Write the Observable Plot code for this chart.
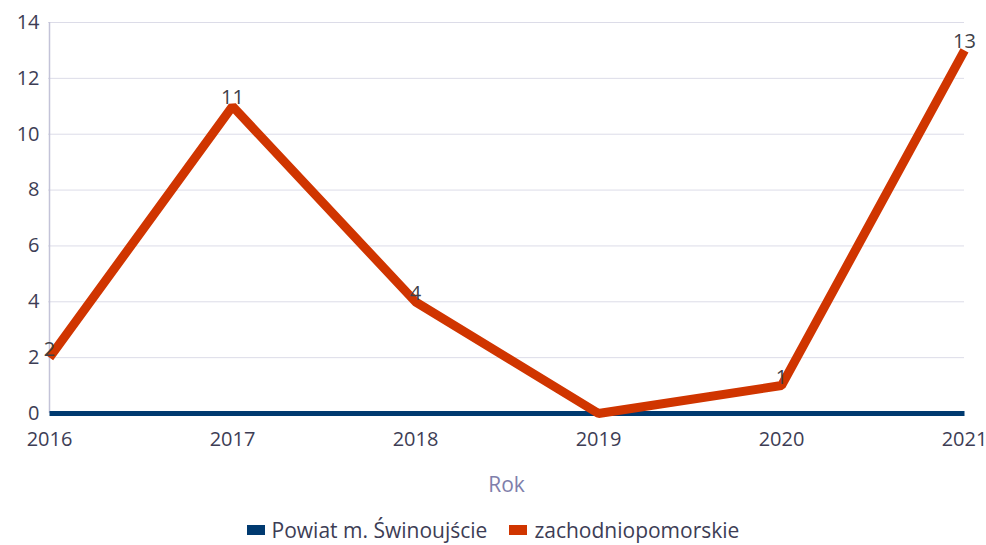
<!DOCTYPE html>
<html>
<head>
<meta charset="utf-8">
<script src="https://cdn.jsdelivr.net/npm/d3@7"></script>
<script src="https://cdn.jsdelivr.net/npm/@observablehq/plot@0.6"></script>
<style>
  body { margin: 0; background: #fff; font-family: "Open Sans", sans-serif; }
  #chart svg { display: block; }
  .legend { display: flex; justify-content: center; align-items: center; gap: 22px; height: 45px; padding-top: 14px; box-sizing: border-box; font-size: 21px; color: #3d3d55; }
  .legend span.item { display: flex; align-items: center; gap: 7px; }
  .legend i { display: inline-block; width: 18px; height: 10px; }
</style>
</head>
<body>
<div id="chart"></div>
<div class="legend" id="legend"></div>
<script>
const years = ["2016", "2017", "2018", "2019", "2020", "2021"];
const seriesNames = ["Powiat m. Świnoujście", "zachodniopomorskie"];
const swinoujscie = [0, 0, 0, 0, 0, 0];
const zachodniopomorskie = [2, 11, 4, 0, 1, 13];
const colors = ["#003a70", "#d03500"];
const yTicks = [0, 2, 4, 6, 8, 10, 12, 14];

const rowsA = years.map((y, i) => ({year: y, value: swinoujscie[i], series: seriesNames[0]}));
const rowsB = years.map((y, i) => ({year: y, value: zachodniopomorskie[i], series: seriesNames[1]}));

const textColor = "#3d3d55";

const chart = Plot.plot({
  width: 986,
  height: 500,
  marginLeft: 48,
  marginRight: 22,
  marginTop: 22,
  marginBottom: 87,
  style: {fontFamily: "'Open Sans', sans-serif", fontSize: "20px", color: textColor, background: "#fff"},
  x: {type: "point", domain: years, padding: 0},
  y: {domain: [0, 14], ticks: yTicks},
  marks: [
    Plot.gridY(yTicks.filter(d => d > 0), {stroke: "#dcdce8", strokeOpacity: 1, strokeWidth: 1}),
    Plot.ruleX([years[0]], {y1: 0, y2: 14, stroke: "#c3c3d8", strokeWidth: 1.5}),
    Plot.axisY({ticks: yTicks, tickSize: 0, tickPadding: 9, label: null, fill: textColor, fontSize: 20}),
    Plot.axisX({tickSize: 0, tickPadding: 18, label: "Rok", labelAnchor: "center", labelArrow: "none", labelOffset: 78, fill: textColor, fontSize: 20}),
    Plot.lineY(rowsA, {x: "year", y: "value", stroke: colors[0], strokeWidth: 5, strokeLinecap: "butt"}),
    Plot.lineY(rowsB, {x: "year", y: "value", stroke: colors[1], strokeWidth: 9, strokeLinejoin: "miter", strokeLinecap: "butt"}),
    Plot.text(rowsB.filter(d => d.value !== 0), {x: "year", y: "value", text: d => String(d.value), lineAnchor: "bottom", dy: -2, fill: "#404048", fontSize: 20, textAnchor: "middle"})
  ]
});
document.getElementById("chart").appendChild(chart);
chart.querySelectorAll("g[aria-label='x-axis label'] text, g[aria-label='x-axis label']").forEach(e => e.setAttribute("fill", "#7f7fab"));
chart.querySelectorAll("g[aria-label='x-axis label']").forEach(e => e.setAttribute("font-size", "21"));

const legend = document.getElementById("legend");
seriesNames.forEach((n, i) => {
  const s = document.createElement("span");
  s.className = "item";
  s.innerHTML = `<i style="background:${colors[i]}"></i>${n}`;
  legend.appendChild(s);
});
</script>
</body>
</html>
